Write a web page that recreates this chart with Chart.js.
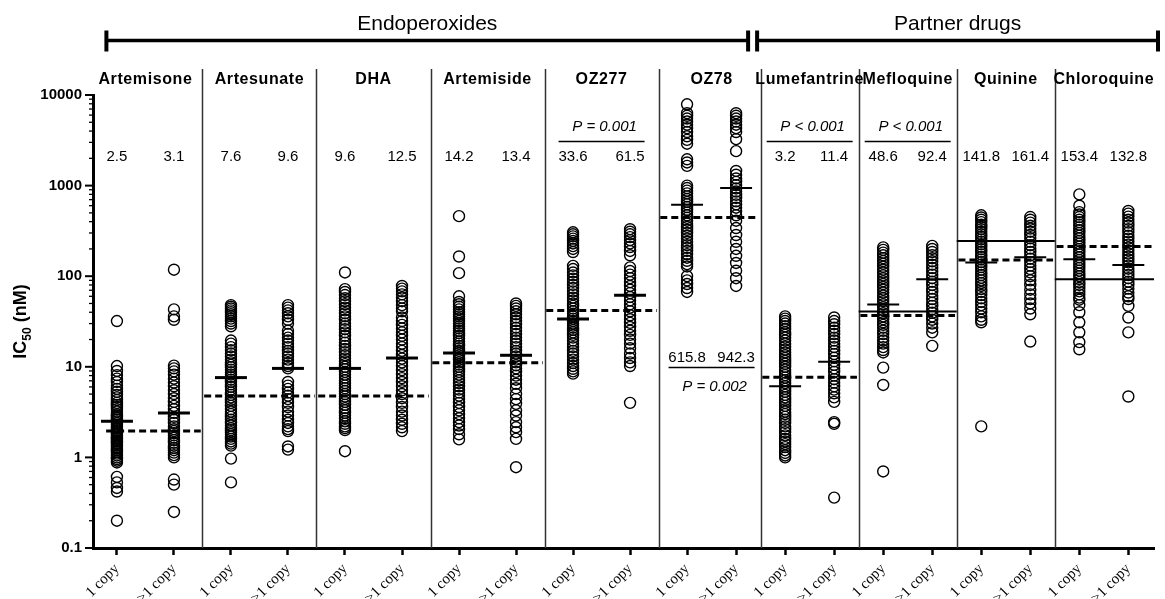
<!DOCTYPE html>
<html>
<head>
<meta charset="utf-8">
<script src="https://cdn.jsdelivr.net/npm/chart.js@4.4.1/dist/chart.umd.min.js"></script>
<style>
  html, body { margin: 0; padding: 0; background: #fff; }
</style>
</head>
<body>
<canvas id="chart" width="1165" height="599"></canvas>
<script>
const drugs = ['Artemisone', 'Artesunate', 'DHA', 'Artemiside', 'OZ277', 'OZ78',
  'Lumefantrine', 'Mefloquine', 'Quinine', 'Chloroquine'];
const copyGroups = ['1 copy', '>1 copy'];
const sections = ['Endoperoxides', 'Partner drugs'];
const sectionFirst = [0, 6];
const sectionLast = [5, 9];
const yTickLabels = [0.1, 1, 10, 100, 1000, 10000];

// IC50 (nM) per drug, 1 copy and >1 copy
const artemisone1 = [32, 10.2, 9.0, 8.1, 7.4, 6.8, 6.2, 5.7, 5.3, 4.9, 4.6, 4.3, 4.0, 3.8, 3.6, 3.4, 3.2, 3.0, 2.9, 2.8, 2.7, 2.6, 2.5, 2.4, 2.3, 2.2, 2.1, 2.0, 1.95, 1.9, 1.85, 1.8, 1.75, 1.7, 1.65, 1.6, 1.55, 1.5, 1.45, 1.4, 1.35, 1.3, 1.25, 1.2, 1.15, 1.1, 1.05, 1.0, 0.96, 0.92, 0.88, 0.61, 0.53, 0.46, 0.42, 0.2];
const artemisoneN = [118, 43, 36, 33, 10.3, 9.6, 8.9, 8.2, 7.4, 6.7, 6.1, 5.5, 5.0, 4.5, 4.1, 3.7, 3.4, 3.1, 2.8, 2.6, 2.4, 2.2, 2.05, 1.95, 1.85, 1.75, 1.65, 1.55, 1.45, 1.35, 1.27, 1.2, 1.13, 1.06, 1.0, 0.57, 0.5, 0.25];
const artesunate1 = [48, 46, 44, 42, 40, 38, 36, 34, 32, 30, 28, 19.5, 18, 16.5, 15.2, 14, 13, 12, 11.2, 10.5, 9.9, 9.3, 8.7, 8.2, 7.7, 7.2, 6.8, 6.4, 6.0, 5.6, 5.2, 4.9, 4.6, 4.3, 4.0, 3.7, 3.4, 3.2, 3.0, 2.8, 2.6, 2.4, 2.25, 2.1, 2.0, 1.9, 1.8, 1.7, 1.6, 1.5, 1.42, 1.35, 0.97, 0.53];
const artesunateN = [48, 45, 42, 39, 36, 33, 30, 25, 23, 21, 19.5, 18, 16.5, 15, 14, 13, 12, 11, 10.2, 9.6, 6.8, 6.2, 5.7, 5.2, 4.8, 4.4, 4.0, 3.6, 3.2, 2.9, 2.6, 2.4, 2.2, 2.05, 1.95, 1.32, 1.22];
const dha1 = [110, 72, 67, 62, 57, 53, 49, 45, 42, 39, 36, 33, 30, 28, 26, 24, 22, 20, 18.5, 17, 15.7, 14.5, 13.4, 12.4, 11.5, 10.7, 10, 9.4, 8.8, 8.2, 7.6, 7.1, 6.6, 6.2, 5.8, 5.4, 5.0, 4.7, 4.4, 4.1, 3.8, 3.5, 3.3, 3.1, 2.9, 2.7, 2.5, 2.35, 2.2, 2.1, 2.0, 1.17];
const dhaN = [78, 73, 68, 63, 58, 53, 48, 44, 41, 35, 32, 29, 26.5, 24, 22, 20, 18, 16.5, 15, 13.5, 12.3, 11.2, 10.2, 9.2, 8.3, 7.5, 6.8, 6.1, 5.5, 5.0, 4.5, 4.0, 3.6, 3.2, 2.9, 2.6, 2.35, 2.15, 1.95];
const artemiside1 = [460, 165, 108, 60, 52, 49, 46, 43, 40, 38, 36, 34, 32, 30, 28, 26.5, 25, 23.5, 22, 20.5, 19, 18, 17, 16, 15, 14.2, 13.4, 12.6, 11.9, 11.2, 10.6, 10, 9.4, 8.8, 8.2, 7.6, 7.1, 6.6, 6.1, 5.6, 5.2, 4.8, 4.4, 4.0, 3.6, 3.3, 3.0, 2.7, 2.45, 2.25, 2.05, 1.8, 1.58];
const artemisideN = [50, 47, 44, 41, 38, 35, 32, 29.5, 27, 25, 23, 21, 19.5, 18, 16.5, 15, 14, 13, 12, 11.2, 10.4, 9.6, 8.8, 8.0, 7.2, 6.5, 5.8, 5.0, 4.4, 3.9, 3.3, 2.9, 2.45, 2.15, 1.9, 1.6, 0.78];
const oz277_1 = [305, 290, 275, 260, 245, 230, 215, 200, 185, 130, 120, 110, 102, 94, 87, 80, 74, 68, 63, 58, 54, 50, 47, 44, 41, 38.5, 36, 34, 32, 30, 28.5, 27, 25.5, 24, 22.5, 21, 19.5, 18, 16.5, 15, 14, 13, 12, 11, 10.2, 9.5, 8.9, 8.4];
const oz277_N = [330, 310, 290, 270, 250, 230, 210, 190, 170, 125, 114, 104, 95, 86, 78, 71, 65, 59, 54, 49, 45, 41, 37, 33.5, 30.5, 27.5, 25, 22.5, 20, 18, 16, 14, 12.5, 11.2, 10.2, 4.0];
const oz78_1 = [7900, 6300, 5900, 5500, 5100, 4700, 4300, 3900, 3500, 3200, 2900, 1950, 1800, 1650, 1000, 940, 880, 820, 760, 710, 660, 620, 580, 540, 505, 470, 440, 410, 380, 350, 325, 300, 280, 260, 240, 220, 205, 190, 175, 160, 148, 136, 128, 100, 90, 82, 74, 67];
const oz78_N = [6300, 5900, 5500, 5100, 4700, 4300, 3900, 3250, 2400, 1450, 1320, 1200, 1100, 1010, 930, 860, 790, 730, 670, 620, 570, 520, 470, 410, 340, 285, 240, 200, 168, 140, 115, 95, 78];
const lumefantrine1 = [36, 34, 32, 30, 28, 26, 24, 22.5, 21, 19.5, 18, 16.7, 15.5, 14.4, 13.4, 12.5, 11.6, 10.8, 10, 9.3, 8.7, 8.1, 7.6, 7.1, 6.6, 6.1, 5.7, 5.3, 4.9, 4.6, 4.3, 4.0, 3.7, 3.4, 3.2, 3.0, 2.8, 2.6, 2.4, 2.2, 2.05, 1.9, 1.75, 1.6, 1.5, 1.4, 1.3, 1.2, 1.12, 1.05, 1.0];
const lumefantrineN = [35, 32, 29.5, 27, 25, 23, 21, 19.5, 18, 16.5, 15, 13.8, 12.6, 11.5, 10.5, 9.6, 8.8, 8.0, 7.3, 6.7, 6.1, 5.6, 5.1, 4.6, 4.1, 2.45, 2.35, 0.36];
const mefloquine1 = [208, 195, 182, 170, 158, 147, 137, 127, 118, 110, 102, 95, 88, 82, 76, 71, 66, 61, 57, 53, 49, 45.5, 42, 39, 36, 33.5, 31, 29, 27, 25, 23, 21, 19.5, 18, 16.5, 15.3, 14.4, 9.8, 6.3, 0.7];
const mefloquineN = [216, 200, 185, 171, 158, 146, 134, 123, 113, 104, 95, 87, 80, 73, 67, 61, 56, 51, 47, 43, 39.5, 36, 33, 30, 27, 24, 17];
const quinine1 = [470, 445, 420, 395, 370, 350, 330, 310, 290, 272, 255, 240, 225, 211, 198, 186, 174, 163, 153, 143, 134, 126, 118, 110, 103, 96, 90, 84, 78, 72, 67, 62, 57, 52, 48, 44, 40, 36, 33, 31, 2.2];
const quinineN = [450, 420, 390, 360, 335, 310, 285, 262, 240, 220, 202, 185, 170, 156, 143, 131, 120, 110, 100, 90, 80, 71, 63, 56, 50, 44, 38, 19];
const chloroquine1 = [800, 600, 510, 480, 450, 420, 395, 370, 345, 322, 300, 280, 262, 245, 228, 213, 199, 186, 174, 162, 151, 141, 132, 123, 115, 107, 100, 93, 86, 80, 74, 68, 63, 58, 55, 48, 40, 31, 24, 18.7, 15.6];
const chloroquineN = [525, 490, 455, 420, 390, 360, 330, 305, 280, 260, 241, 223, 207, 192, 178, 165, 153, 142, 131, 121, 112, 103, 95, 87, 80, 73, 66, 60, 56, 47, 35, 24, 4.7];

const seriesValues = [artemisone1, artemisoneN, artesunate1, artesunateN, dha1, dhaN,
  artemiside1, artemisideN, oz277_1, oz277_N, oz78_1, oz78_N, lumefantrine1, lumefantrineN,
  mefloquine1, mefloquineN, quinine1, quinineN, chloroquine1, chloroquineN];

// mean bars and the printed means
const meanLines = [2.5, 3.1, 7.6, 9.6, 9.6, 12.5, 14.2, 13.4, 33.6, 61.5, 615.8, 942.3,
  6.1, 11.4, 48.6, 92.4, 141.8, 161.4, 153.4, 132.8];
const meanLabels = ['2.5', '3.1', '7.6', '9.6', '9.6', '12.5', '14.2', '13.4', '33.6', '61.5',
  '615.8', '942.3', '3.2', '11.4', '48.6', '92.4', '141.8', '161.4', '153.4', '132.8'];

// reference lines per drug
const dashedRef = [1.95, 4.75, 4.75, 11.1, 41.8, 445, 7.65, 36.8, 151, 213];
const solidRef = [null, null, null, null, null, null, null, 40.7, 245, 92.7];

// P values
const pDrugs = [4, 5, 6, 7];
const pTexts = ['P = 0.001', 'P = 0.002', 'P < 0.001', 'P < 0.001'];
const labelsBelow = [5];

// layout helpers: partner drug columns sit a bit closer together
function slot(i) { return i <= 10 ? i : 10 + (i - 10) * 0.86; }
const xMin = -0.42, xMax = 18.19;
function groupLeft(g) { return g === 0 ? slot(0) - 0.22 : (slot(2 * g - 1) + slot(2 * g)) / 2; }
function groupRight(g) { return g === drugs.length - 1 ? xMax : (slot(2 * g + 1) + slot(2 * g + 2)) / 2; }
function groupMid(g) { return (slot(2 * g) + slot(2 * g + 1)) / 2; }
function isDecade(v) { const l = Math.log10(v); return Math.abs(l - Math.round(l)) < 1e-6; }

const SANS = '"Liberation Sans", Arial, sans-serif';

const datasets = [];
meanLines.forEach((m, i) => {
  datasets.push({
    data: [{ x: slot(i) - 0.28, y: m }, { x: slot(i) + 0.28, y: m }],
    showLine: true, borderColor: '#000', borderWidth: i < 10 ? 3 : 2, pointRadius: 0, order: 0
  });
});
dashedRef.forEach((v, g) => {
  datasets.push({
    data: [{ x: groupLeft(g) + 0.03, y: v }, { x: groupRight(g) - 0.03, y: v }],
    showLine: true, borderColor: '#000', borderWidth: 3, borderDash: [7, 4],
    pointRadius: 0, order: 0
  });
});
solidRef.forEach((v, g) => {
  if (v === null) return;
  datasets.push({
    data: [{ x: groupLeft(g), y: v }, { x: groupRight(g), y: v }],
    showLine: true, borderColor: '#000', borderWidth: 2, pointRadius: 0, order: 0
  });
});
datasets.push({
  data: seriesValues.flatMap((vals, i) => vals.map(v => ({ x: slot(i), y: v }))),
  pointRadius: 5.5, pointBorderWidth: 1.4, pointBorderColor: '#000',
  pointBackgroundColor: 'rgba(0,0,0,0)', order: 2
});

const annotate = {
  id: 'annotate',
  beforeDatasetsDraw(chart) {
    const { ctx, chartArea: ca, scales: { x } } = chart;
    ctx.save();
    ctx.strokeStyle = '#333';
    ctx.lineWidth = 1.5;
    for (let g = 1; g < drugs.length; g++) {
      const px = Math.round(x.getPixelForValue(groupLeft(g))) + 0.5;
      ctx.beginPath();
      ctx.moveTo(px, ca.top - 26);
      ctx.lineTo(px, ca.bottom);
      ctx.stroke();
    }
    ctx.restore();
  },
  afterDraw(chart) {
    const { ctx, chartArea: ca, scales: { x, y } } = chart;
    ctx.save();
    ctx.fillStyle = '#000';
    ctx.strokeStyle = '#000';

    // y ticks, long at decades
    y.ticks.forEach(t => {
      const py = y.getPixelForValue(t.value);
      const major = isDecade(t.value);
      ctx.lineWidth = major ? 2 : 1.3;
      ctx.beginPath();
      ctx.moveTo(ca.left - (major ? 8 : 4), py);
      ctx.lineTo(ca.left, py);
      ctx.stroke();
    });

    // section brackets
    sections.forEach((name, s) => {
      const x0 = s === 0 ? x.getPixelForValue(groupLeft(sectionFirst[s])) + 2
        : x.getPixelForValue(groupLeft(sectionFirst[s])) - 3.5;
      const x1 = s === sections.length - 1 ? ca.right + 4
        : x.getPixelForValue(groupRight(sectionLast[s])) - 12.5;
      const by = ca.top - 54.5;
      ctx.lineWidth = 3.5;
      ctx.beginPath();
      ctx.moveTo(x0, by); ctx.lineTo(x1, by);
      ctx.stroke();
      ctx.lineWidth = 4;
      ctx.beginPath();
      ctx.moveTo(x0, by - 10); ctx.lineTo(x0, by + 11);
      ctx.moveTo(x1, by - 10); ctx.lineTo(x1, by + 11);
      ctx.stroke();
      ctx.font = '21px ' + SANS;
      ctx.textAlign = 'center';
      ctx.textBaseline = 'middle';
      ctx.fillText(name, (x0 + x1) / 2, ca.top - 71);
    });

    // drug names
    ctx.font = 'bold 16px ' + SANS;
    if ('letterSpacing' in ctx) ctx.letterSpacing = '0.6px';
    drugs.forEach((d, g) => {
      ctx.fillText(d, x.getPixelForValue(groupMid(g)), ca.top - 15);
    });
    if ('letterSpacing' in ctx) ctx.letterSpacing = '0px';

    // printed means
    ctx.font = '15px ' + SANS;
    meanLabels.forEach((lab, i) => {
      const below = labelsBelow.includes(Math.floor(i / 2));
      ctx.fillText(lab, x.getPixelForValue(slot(i)), ca.top + (below ? 262.5 : 61.5));
    });

    // P values
    pDrugs.forEach((g, k) => {
      const cx = x.getPixelForValue(groupMid(g));
      const below = labelsBelow.includes(g);
      const lineY = ca.top + (below ? 272.5 : 46.5);
      const textY = ca.top + (below ? 291.5 : 31.5);
      ctx.lineWidth = 1.6;
      ctx.beginPath();
      ctx.moveTo(cx - 43, lineY); ctx.lineTo(cx + 43, lineY);
      ctx.stroke();
      ctx.font = 'italic 15px ' + SANS;
      ctx.fillText(pTexts[k], cx + 3, textY);
    });

    // y axis title with subscript
    ctx.translate(20, (ca.top + ca.bottom) / 2);
    ctx.rotate(-Math.PI / 2);
    const big = 'bold 18px ' + SANS, small = 'bold 12px ' + SANS;
    const parts = [['IC', big, 0], ['50', small, 5], [' (nM)', big, 0]];
    let total = 0;
    parts.forEach(p => { ctx.font = p[1]; total += ctx.measureText(p[0]).width; });
    let cur = -total / 2;
    ctx.textAlign = 'left';
    ctx.textBaseline = 'alphabetic';
    parts.forEach(p => {
      ctx.font = p[1];
      ctx.fillText(p[0], cur, 6 + p[2]);
      cur += ctx.measureText(p[0]).width;
    });
    ctx.restore();
  }
};

new Chart(document.getElementById('chart'), {
  type: 'scatter',
  data: { datasets },
  options: {
    responsive: false,
    animation: false,
    devicePixelRatio: 1,
    layout: { padding: { top: 95, right: 11, left: 0, bottom: 0 } },
    plugins: { legend: { display: false }, tooltip: { enabled: false } },
    scales: {
      x: {
        type: 'linear',
        min: xMin,
        max: xMax,
        afterBuildTicks: s => { s.ticks = seriesValues.map((_, i) => ({ value: slot(i) })); },
        afterFit: s => { s.height = 51; },
        ticks: {
          autoSkip: false,
          minRotation: 45,
          maxRotation: 45,
          padding: 5,
          color: '#000',
          font: { family: '"Liberation Serif", "Times New Roman", serif', size: 15 },
          callback: (v, i) => copyGroups[i % 2]
        },
        grid: { display: true, drawOnChartArea: false, tickLength: 7, tickWidth: 2.5, tickColor: '#000' },
        border: { display: true, width: 3, color: '#000' }
      },
      y: {
        type: 'logarithmic',
        min: 0.1,
        max: 10000,
        afterBuildTicks: s => {
          const t = [];
          yTickLabels.forEach(d => {
            for (let k = 1; k <= 9; k++) {
              if (d === yTickLabels[yTickLabels.length - 1] && k > 1) break;
              t.push({ value: +(d * k).toPrecision(6), major: k === 1 });
            }
          });
          s.ticks = t;
        },
        afterFit: s => { s.width = 93; },
        ticks: {
          autoSkip: false,
          padding: 3,
          color: '#000',
          font: { family: SANS, size: 15, weight: 'bold' },
          callback: v => {
            const hit = yTickLabels.find(d => Math.abs(d - v) < d * 1e-6);
            return hit === undefined ? '' : String(hit);
          }
        },
        grid: { display: false, drawTicks: true, tickLength: 8 },
        border: { display: true, width: 3, color: '#000' }
      }
    }
  },
  plugins: [annotate]
});
</script>
</body>
</html>
